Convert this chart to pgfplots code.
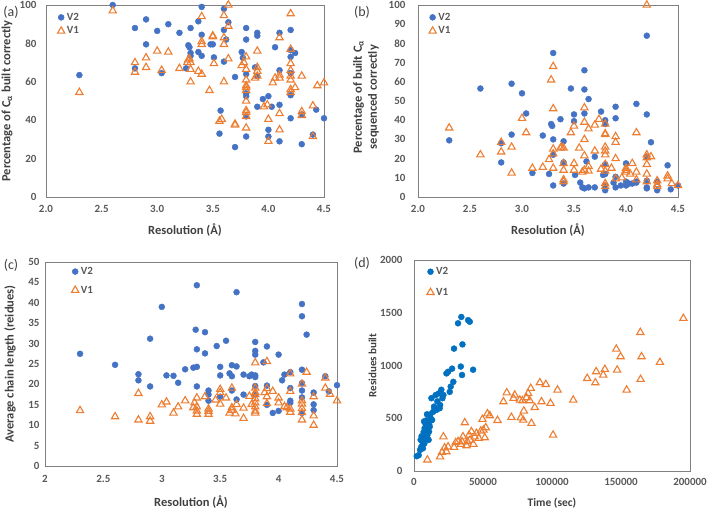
\documentclass[border=0pt]{standalone}
\usepackage{fontspec}
\setmainfont{Carlito}
\usepackage{pgfplots}
\pgfplotsset{compat=1.18}
\definecolor{vb}{HTML}{4472C4}
\definecolor{vbd}{HTML}{0070C0}
\definecolor{vo}{HTML}{ED7D31}
\definecolor{tk}{HTML}{595959}
\definecolor{lb}{HTML}{404040}
\definecolor{fr}{HTML}{808080}
\pgfplotsset{
  panel/.style={
    scale only axis, anchor=south west,
    axis line style={draw=fr, line width=0.8pt},
    tick style={draw=none},
    /pgf/number format/assume math mode=true,
    ticklabel style={font=\bfseries\fontsize{11}{13}\selectfont, text=tk},
    label style={font=\bfseries\fontsize{12.5}{15}\selectfont, text=lb},
    legend style={draw=none, fill=none, anchor=north west, font=\bfseries\fontsize{11}{13}\selectfont, text=tk, row sep=1pt},
    legend cell align=left,
    scaled ticks=false,
  },
  v2/.style={only marks, mark=*, mark size=3pt, mark options={draw=vb, fill=vb}},
  v1/.style={only marks, mark=triangle, mark size=4.2pt, mark options={draw=vo, line width=1.1pt, fill=none}},
}
\begin{document}
\begin{tikzpicture}[x=1pt,y=1pt]
\useasboundingbox (0,0) rectangle (709,510);
% panel labels
\node[font=\fontsize{14}{16}\selectfont, text=lb] at (11,498) {(a)};
\node[font=\fontsize{14}{16}\selectfont, text=lb] at (362,498) {(b)};
\node[font=\fontsize{14}{16}\selectfont, text=lb] at (11,245) {(c)};
\node[font=\fontsize{14}{16}\selectfont, text=lb] at (362,247) {(d)};

% (a)
\begin{axis}[panel, at={(46pt,313pt)}, width=278pt, height=192pt,
  xmin=2, xmax=4.5, ymin=0, ymax=100,
  xtick={2,2.5,3,3.5,4,4.5}, ytick={0,20,40,60,80,100},
  xticklabel style={yshift=-5pt, /pgf/number format/.cd, fixed, fixed zerofill, precision=1},
  yticklabel style={xshift=-6pt},
  xlabel={Resolution (Å)}, ylabel={Percentage of C\textsubscript{α} built correctly},
  xlabel style={at={(rel axis cs:0.5,-0.17)}, anchor=center},
  ylabel style={at={(rel axis cs:-0.14,0.5)}, anchor=center},
  legend style={at={(rel axis cs:0.03,0.98)}},
]
\addplot[v2] coordinates {
(2.3,63.5)(2.6,100)(2.8,88)(2.8,67)(2.9,92.5)(2.9,79.5)(3.0,86.5)(3.04,64.5)(3.1,90)(3.2,85.5)
(3.26,67)(3.28,79)(3.29,78)(3.3,88)(3.3,75)(3.3,73.5)(3.37,91.5)(3.37,75.5)(3.4,99)(3.4,84.5)
(3.4,73.5)(3.48,79.5)(3.5,79.5)(3.51,72.7)(3.56,33)(3.57,45)(3.6,98)(3.6,87)(3.6,70.5)(3.62,82)
(3.64,91)(3.7,62.5)(3.7,26)(3.76,75.5)(3.77,72.5)(3.8,88)(3.8,82)(3.8,64)(3.8,54)(3.8,52.5)
(3.8,42)(3.8,31.5)(3.88,67.5)(3.9,85.5)(3.9,84)(3.9,63)(3.9,47)(3.95,51)(4.0,52.5)(4.0,35)
(4.0,31.5)(4.03,47)(4.06,78)(4.1,85.5)(4.1,66)(4.1,48)(4.1,29)(4.2,87)(4.2,76.5)(4.2,73)
(4.2,64.5)(4.2,53)(4.2,41)(4.24,75)(4.3,43)(4.3,27.5)(4.4,32.5)(4.43,45.5)(4.5,41)
};
\addplot[v1] coordinates {
(2.3,54.5)(2.6,97)(2.8,70)(2.8,65)(2.9,72.5)(2.9,67.5)(3.0,76)(3.04,66)(3.1,75.5)(3.2,67)
(3.27,70)(3.28,71.5)(3.29,72)(3.3,70)(3.3,66.5)(3.3,60)(3.37,65.5)(3.4,94)(3.4,81)(3.4,79.5)
(3.4,64)(3.47,55.5)(3.5,84)(3.5,83.5)(3.51,69.5)(3.56,39.5)(3.58,40.5)(3.6,94.5)(3.6,83)(3.6,79.5)
(3.6,60)(3.64,100)(3.64,89)(3.64,72)(3.7,38)(3.7,37.5)(3.76,68.5)(3.78,70)(3.8,73)(3.8,66.5)
(3.8,61)(3.8,58)(3.8,57)(3.8,55.5)(3.8,50)(3.8,45)(3.8,44)(3.8,42)(3.8,36)(3.88,62)
(3.9,76)(3.9,67.5)(3.9,65.5)(3.9,63)(3.96,47)(3.99,48)(4.0,40.5)(4.0,29)(4.04,59.5)(4.06,62)
(4.1,83)(4.1,63.5)(4.1,62)(4.1,43.5)(4.1,35)(4.2,95.5)(4.2,77)(4.2,69.5)(4.2,66)(4.2,63)
(4.2,61)(4.2,56)(4.2,54.5)(4.24,57)(4.3,63)(4.3,44.5)(4.3,42.5)(4.4,47.5)(4.4,31.5)(4.44,58)(4.5,59.5)
};
\legend{V2,V1}
\end{axis}

% (b)
\begin{axis}[panel, at={(418pt,313pt)}, width=260pt, height=192pt,
  xmin=2, xmax=4.5, ymin=0, ymax=100,
  xtick={2,2.5,3,3.5,4,4.5}, ytick={0,10,...,100},
  xticklabel style={yshift=-5pt, /pgf/number format/.cd, fixed, fixed zerofill, precision=1},
  yticklabel style={xshift=-9pt},
  xlabel={Resolution (Å)}, ylabel={Percentage of built C\textsubscript{α}\\sequenced correctly},
  xlabel style={at={(rel axis cs:0.5,-0.17)}, anchor=center},
  ylabel style={at={(rel axis cs:-0.2,0.52)}, anchor=center, align=center},
  legend style={at={(rel axis cs:0.03,0.98)}},
]
\addplot[v2] coordinates {
(2.3,29.5)(2.6,56.5)(2.8,28)(2.8,18)(2.9,59)(2.9,32.5)(3.0,54)(3.04,43.5)(3.1,12.5)(3.2,32)
(3.26,12)(3.28,38)(3.29,37)(3.3,75)(3.3,30)(3.3,22)(3.3,6)(3.37,40.5)(3.4,29)(3.4,18)
(3.4,7)(3.47,56.5)(3.5,43)(3.5,39.5)(3.51,11.5)(3.56,7.5)(3.58,5)(3.6,66)(3.6,56)(3.6,43.5)
(3.6,4.5)(3.62,18.5)(3.64,51)(3.64,5)(3.7,21)(3.7,5)(3.76,44.5)(3.78,11.5)(3.8,40)(3.8,38)
(3.8,17)(3.8,12)(3.8,6)(3.8,3.5)(3.88,7.5)(3.9,47)(3.9,41)(3.9,10.5)(3.9,5)(3.95,6)
(4.0,17.5)(4.0,8)(4.0,6)(4.03,7)(4.06,7)(4.1,48.5)(4.1,8)(4.1,7.5)(4.2,84)(4.2,43)
(4.2,21)(4.2,8.5)(4.2,5)(4.2,4.5)(4.24,28.5)(4.3,8)(4.3,3.5)(4.4,16.5)(4.43,4)(4.5,6)
};
\addplot[v1] coordinates {
(2.3,36)(2.6,22)(2.8,28.5)(2.8,23.5)(2.9,26)(2.9,12.5)(3.0,41)(3.04,33.5)(3.1,15)(3.2,15.5)
(3.26,19.5)(3.28,61)(3.3,68)(3.3,46)(3.3,25)(3.3,22.5)(3.3,15)(3.37,25.5)(3.38,26)(3.4,25.5)
(3.4,17.5)(3.4,14)(3.4,9)(3.4,8)(3.47,33.5)(3.5,37)(3.5,17.5)(3.5,14)(3.55,25.5)(3.58,13)
(3.6,46.5)(3.6,39)(3.6,30)(3.6,21.5)(3.6,14)(3.64,35.5)(3.64,16)(3.64,13.5)(3.7,37.5)(3.7,24)
(3.74,40.5)(3.76,14.5)(3.8,38)(3.8,33)(3.8,32.5)(3.8,26)(3.8,24)(3.8,22)(3.8,17)(3.8,13.5)
(3.8,7)(3.8,5.5)(3.86,15)(3.9,31.5)(3.9,28.5)(3.9,20)(3.9,9.5)(3.96,10)(4.0,15)(4.0,14)
(4.0,13)(4.04,12)(4.06,17.5)(4.1,33.5)(4.1,13)(4.1,9)(4.2,100)(4.2,22)(4.2,20.5)(4.2,17)
(4.2,12)(4.2,8)(4.24,21)(4.3,8.5)(4.3,6.5)(4.3,5.5)(4.4,11)(4.4,9.5)(4.44,7)(4.5,6)
};
\legend{V2,V1}
\end{axis}

% (c)
\begin{axis}[panel, at={(45pt,44pt)}, width=292pt, height=204pt,
  xmin=2, xmax=4.5, ymin=0, ymax=50,
  xtick={2,2.5,3,3.5,4,4.5}, ytick={0,5,...,50},
  xticklabel style={yshift=-6pt},
  yticklabel style={xshift=-2pt},
  xlabel={Resolution (Å)}, ylabel={Average chain length (reidues)},
  xlabel style={at={(rel axis cs:0.5,-0.176)}, anchor=center},
  ylabel style={at={(rel axis cs:-0.12,0.5)}, anchor=center},
  legend style={at={(rel axis cs:0.08,0.995)}, row sep=6pt},
]
\addplot[v2] coordinates {
(2.3,27.5)(2.6,24.8)(2.8,22.5)(2.8,21)(2.9,31.2)(2.9,19.5)(3.0,39)(3.04,22.2)(3.1,22.1)(3.14,20.4)
(3.2,23.7)(3.27,24.1)(3.29,33.4)(3.3,44.3)(3.3,28.6)(3.3,24.3)(3.3,19.5)(3.37,32.8)(3.37,27.6)(3.4,18.5)
(3.4,17.5)(3.4,16)(3.47,29.4)(3.5,24.3)(3.5,22.2)(3.5,17)(3.55,30.7)(3.58,22.7)(3.6,24.7)(3.6,22)
(3.6,18.5)(3.64,42.6)(3.64,24.4)(3.64,16.3)(3.7,22.4)(3.7,17.5)(3.75,22)(3.77,22.4)(3.8,30.4)(3.8,28.2)
(3.8,27.3)(3.8,22.2)(3.8,21.8)(3.8,19.6)(3.8,17.5)(3.87,25.4)(3.9,29.3)(3.9,19.7)(3.9,15)(3.95,13)
(4.0,27.3)(4.0,13.5)(4.03,21)(4.05,22.4)(4.1,23)(4.1,19.1)(4.1,16)(4.1,15.5)(4.2,39.7)(4.2,36.7)
(4.2,23.6)(4.2,20.3)(4.2,18.5)(4.2,16.8)(4.2,13)(4.24,32.2)(4.3,18)(4.3,15.1)(4.3,13.7)(4.4,22)
(4.43,18.3)(4.5,19.8)
};
\addplot[v1] coordinates {
(2.3,13.6)(2.6,12.1)(2.8,17.8)(2.8,11.3)(2.9,12.1)(2.9,11)(3.0,15)(3.04,15.7)(3.1,13)(3.14,14.5)
(3.2,16)(3.27,14.3)(3.28,15.5)(3.3,16.7)(3.3,14.5)(3.3,13.5)(3.3,12.7)(3.37,17)(3.4,14)(3.4,13.4)
(3.4,12.7)(3.46,16.2)(3.5,18.8)(3.5,18)(3.5,15.2)(3.55,16.7)(3.58,13)(3.6,19.1)(3.6,14.3)(3.6,13.7)
(3.63,12.8)(3.64,15.1)(3.7,14.2)(3.7,11.7)(3.75,17.1)(3.77,15.1)(3.8,25.3)(3.8,19.1)(3.8,18)(3.8,17.5)
(3.8,16.5)(3.8,15.5)(3.8,14.5)(3.8,13.5)(3.8,13)(3.88,18)(3.9,25.6)(3.9,19)(3.9,17)(3.9,15.3)
(3.95,18.3)(4.0,16.7)(4.0,15.5)(4.05,14.6)(4.07,14.3)(4.1,22.6)(4.1,18.3)(4.1,14)(4.1,13.2)(4.2,20.1)
(4.2,16)(4.2,15.2)(4.2,14.1)(4.2,13.1)(4.2,11.3)(4.24,23)(4.3,17)(4.3,12.3)(4.3,10)(4.4,21.6)
(4.4,19.1)(4.44,17.6)(4.5,16)
};
\legend{V2,V1}
\end{axis}

% (d)
\begin{axis}[panel, at={(414pt,39pt)}, width=276pt, height=211pt,
  xmin=0, xmax=200000, ymin=0, ymax=2000,
  xtick={0,50000,100000,150000,200000}, ytick={0,500,...,2000},
  xticklabel style={yshift=-4pt, /pgf/number format/.cd, fixed, 1000 sep={}},
  yticklabel style={xshift=-8pt, /pgf/number format/.cd, fixed, 1000 sep={}},
  xlabel={Time (sec)}, ylabel={Residues built},
  xlabel style={at={(rel axis cs:0.5,-0.15)}, anchor=center, font=\bfseries\fontsize{11.5}{13}\selectfont},
  ylabel style={at={(rel axis cs:-0.15,0.5)}, anchor=center, font=\bfseries\fontsize{11}{13}\selectfont},
  legend style={at={(rel axis cs:0.035,0.985)}, row sep=8pt},
]
\addplot[v2, mark options={draw=vbd, fill=vbd}] coordinates {
(2000,140)(3400,150)(4400,200)(5300,230)(6000,280)(6500,325)(7000,370)(7700,405)(8200,450)(9000,480)
(9700,340)(10200,470)(10600,295)(11400,420)(12100,500)(12600,690)(13800,560)(14500,610)(15700,720)(16900,660)
(17900,735)(18900,625)(19800,770)(20600,690)(21300,720)(23500,925)(24700,940)(25900,750)(26600,800)(27600,970)
(28500,845)(29000,1160)(31900,1400)(33900,990)(34300,1460)(34800,910)(35100,1200)(39200,1430)(40400,1415)(42800,960)
(4800,295)(6500,215)(7300,470)(8500,390)(9400,537)(10900,373)(11800,537)(13100,483)(15000,595)(16400,580)
(18600,595)(5500,330)(8000,300)(11000,440)(7500,260)
};
\addplot[v1] coordinates {
(9700,105)(18900,135)(20300,177)(21300,325)(22200,220)(23500,183)(24700,230)(29000,225)(30200,270)(31900,280)
(33900,253)(34800,278)(35500,325)(36800,458)(38000,240)(38700,278)(39900,341)(40600,294)(41600,373)(43000,253)
(44000,325)(45200,357)(46900,310)(48400,379)(49600,490)(50300,389)(51300,316)(52000,411)(53200,543)(54900,525)
(60500,480)(64800,657)(67200,742)(70600,509)(72100,689)(73000,720)(76700,673)(77400,505)(78600,667)(79600,569)
(79100,483)(81500,695)(82700,736)(83900,667)(84600,784)(85100,452)(87500,603)(91200,837)(92400,657)(95500,821)
(98900,642)(100800,341)(104000,768)(115400,673)(125500,878)(131400,837)(132000,942)(137100,910)(138300,964)(146600,1156)
(147200,957)(149700,1084)(154100,768)(164000,1314)(164200,869)(164900,1084)(178200,1030)(195200,1447)
};
\legend{V2,V1}
\end{axis}
\end{tikzpicture}
\end{document}
